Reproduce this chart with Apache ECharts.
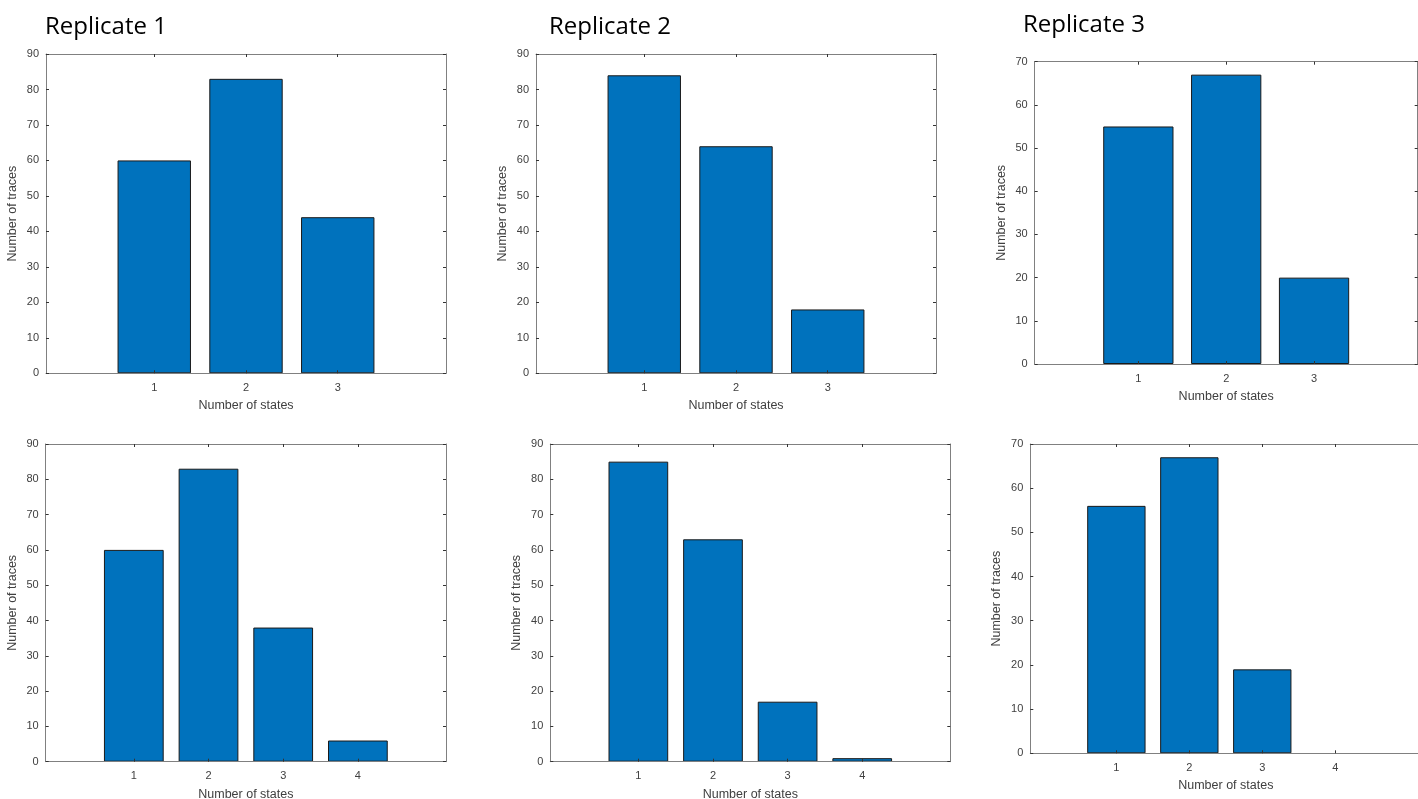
<!DOCTYPE html>
<html>
<head>
<meta charset="utf-8">
<script src="https://cdn.jsdelivr.net/npm/echarts@6/dist/echarts.min.js"></script>
<style>
html,body{margin:0;padding:0;background:#fff;}
#c{width:1418px;height:799px;}
</style>
</head>
<body>
<div id="c"></div>
<script>
// ---- data ----
const titles = ['Replicate 1', 'Replicate 2', 'Replicate 3'];
const states3 = [1, 2, 3];
const states4 = [1, 2, 3, 4];
const rep1Top = [60, 83, 44];
const rep2Top = [84, 64, 18];
const rep3Top = [55, 67, 20];
const rep1Bottom = [60, 83, 38, 6];
const rep2Bottom = [85, 63, 17, 1];
const rep3Bottom = [56, 67, 19, 0];
const yMax = [90, 90, 70, 90, 90, 70];
const yInterval = 10;
const xLabel = 'Number of states';
const yLabel = 'Number of traces';

// ---- layout ----
const panels = [
  {states: states3, values: rep1Top,    grid: {left: 46,     top: 54,   width: 400,   height: 319.3}, yMax: yMax[0]},
  {states: states3, values: rep2Top,    grid: {left: 536,    top: 54,   width: 400,   height: 319.3}, yMax: yMax[1]},
  {states: states3, values: rep3Top,    grid: {left: 1034.7, top: 61.7, width: 383,   height: 302.3}, yMax: yMax[2]},
  {states: states4, values: rep1Bottom, grid: {left: 45.7,   top: 444,  width: 400.3, height: 317.7}, yMax: yMax[3]},
  {states: states4, values: rep2Bottom, grid: {left: 550.3,  top: 444,  width: 400,   height: 317.7}, yMax: yMax[4]},
  {states: states4, values: rep3Bottom, grid: {left: 1030.3, top: 444,  width: 391,   height: 309.3}, yMax: yMax[5]}
];
const titlePos = [[45, 27], [549, 27], [1023, 25.5]];

const lineColor = '#808080';
const tickColor = '#333333';
const textColor = '#404040';
const barColor = '#0072BD';
const pad = 1.18;

const grids = [], xAxes = [], yAxes = [], series = [];
panels.forEach((p, i) => {
  grids.push(Object.assign({containLabel: false, outerBoundsMode: 'none'}, p.grid));
  const n = p.states.length;
  const xmin = 1 - pad, xmax = n + pad;
  const common = {
    type: 'value', gridIndex: i, min: xmin, max: xmax,
    splitLine: {show: false},
    axisLine: {show: true, onZero: false, lineStyle: {color: lineColor, width: 1}},
    z: 5
  };
  xAxes.push(Object.assign({}, common, {
    position: 'bottom',
    axisTick: {show: true, inside: true, length: 3, customValues: p.states, lineStyle: {color: tickColor}},
    axisLabel: {show: true, customValues: p.states, margin: 9, fontSize: 11, color: textColor, fontFamily: 'Liberation Sans'},
    name: xLabel, nameLocation: 'middle', nameGap: 26,
    nameTextStyle: {fontSize: 12.5, color: textColor, fontFamily: 'Liberation Sans'}
  }));
  xAxes.push(Object.assign({}, common, {
    position: 'top',
    axisTick: {show: true, inside: true, length: 3, customValues: p.states, lineStyle: {color: tickColor}},
    axisLabel: {show: false}
  }));
  const ycommon = {
    type: 'value', gridIndex: i, min: 0, max: p.yMax, interval: yInterval,
    splitLine: {show: false},
    axisLine: {show: true, onZero: false, lineStyle: {color: lineColor, width: 1}},
    axisTick: {show: true, inside: true, length: 3, lineStyle: {color: tickColor}},
    z: 5
  };
  yAxes.push(Object.assign({}, ycommon, {
    position: 'left',
    axisLabel: {show: true, margin: 7, fontSize: 11, color: textColor, fontFamily: 'Liberation Sans'},
    name: yLabel, nameLocation: 'middle', nameGap: 27,
    nameTextStyle: {fontSize: 12.5, color: textColor, fontFamily: 'Liberation Sans'}
  }));
  yAxes.push(Object.assign({}, ycommon, {
    position: 'right',
    axisLabel: {show: false}
  }));
  series.push({
    type: 'bar',
    xAxisIndex: 2 * i, yAxisIndex: 2 * i,
    data: p.states.map((s, k) => ({
      value: [s, p.values[k]],
      itemStyle: p.values[k] === 0 ? {borderWidth: 0, opacity: 0} : undefined
    })),
    barWidth: '80%',
    itemStyle: {color: barColor, borderColor: '#1a1a1a', borderWidth: 1},
    silent: true,
    animation: false,
    z: 2
  });
});

const graphics = titles.map((t, i) => ({
  type: 'text',
  style: {
    text: t, x: titlePos[i][0], y: titlePos[i][1],
    verticalAlign: 'middle', align: 'left',
    font: '24px "Open Sans"', fill: '#000'
  }
}));

const chart = echarts.init(document.getElementById('c'), null, {renderer: 'canvas'});
chart.setOption({
  animation: false,
  backgroundColor: '#fff',
  grid: grids,
  xAxis: xAxes,
  yAxis: yAxes,
  series: series,
  graphic: graphics
});
</script>
</body>
</html>
